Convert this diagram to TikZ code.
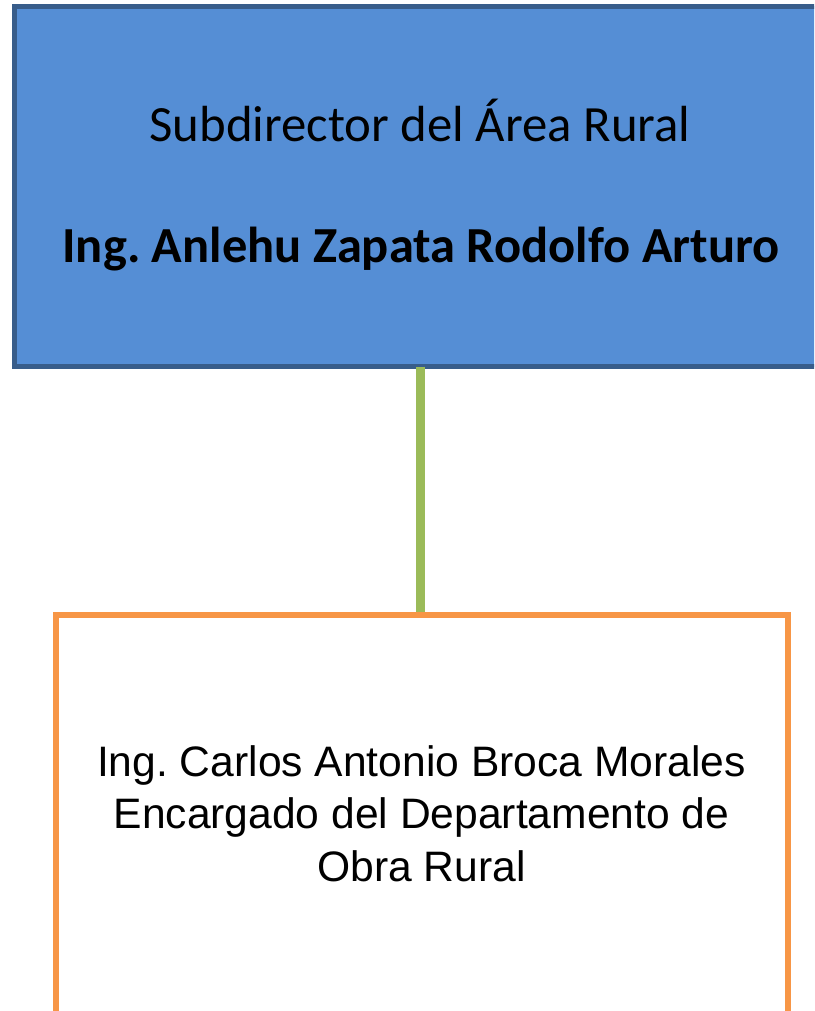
\documentclass[tikz,border=0pt]{standalone}
\usepackage{fontspec}
\newfontfamily\calibfont{Carlito}
\newfontfamily\arialfont{Liberation Sans}
\definecolor{topfill}{HTML}{558ED5}
\definecolor{topdraw}{HTML}{385D8A}
\definecolor{conncol}{HTML}{9BBB59}
\definecolor{botdraw}{HTML}{F79646}
\frenchspacing
\begin{document}
\begin{tikzpicture}[x=1pt,y=-1pt,
  topbox/.style={draw=topdraw,fill=topfill,line width=5pt,inner sep=0pt,outer sep=0pt,
    minimum width=815.5pt,minimum height=360pt,anchor=north west},
  botbox/.style={draw=botdraw,line width=6pt,inner sep=0pt,outer sep=0pt,
    minimum width=731.5pt,minimum height=420pt,anchor=north west},
  conn/.style={draw=conncol,line width=9pt},
  toptext/.style={font=\calibfont\fontsize{50.8}{60}\selectfont,text=black,inner sep=0pt,anchor=base},
  bottext/.style={font=\arialfont\fontsize{42.6}{52.5}\selectfont,text=black,inner sep=0pt,align=center,anchor=base}]
\useasboundingbox (0,0) rectangle (814,1011);
\clip (0,0) rectangle (814,1011);
\node[topbox] (top) at (14.5,6.5) {};
\node[botbox] (bot) at (56,614.5) {};
\coordinate (gx) at (420.5,0);
\draw[conn] (top.south -| gx) -- (bot.north -| gx);
\node[botbox,fill=none] at (56,614.5) {};
\node[toptext] (t1) at (420,142) {Subdirector del Área Rural};
\node[toptext,font=\calibfont\bfseries\fontsize{50.5}{60}\selectfont] (t2) at (421,262) {Ing. Anlehu Zapata Rodolfo Arturo};
\node[bottext] (b1) at (421.5,881) {Ing. Carlos Antonio Broca Morales\\Encargado del Departamento de\\Obra Rural};
\end{tikzpicture}
\end{document}
